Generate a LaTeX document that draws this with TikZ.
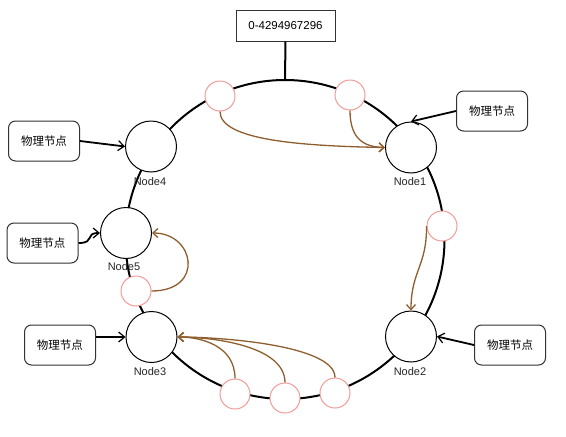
\documentclass[tikz,border=0pt]{standalone}
\usepackage{fontspec}
\setmainfont{Liberation Sans}
\newfontfamily\cjk{Noto Sans CJK SC}
\usetikzlibrary{arrows.meta}
\definecolor{pinkline}{HTML}{F19C99}
\definecolor{brownline}{HTML}{8F5E2E}
\begin{document}
\begin{tikzpicture}[x=1pt,y=-1pt,
  ringc/.style={circle,draw=black,line width=2pt,minimum size=319pt,inner sep=0pt},
  bignode/.style={circle,draw=black,fill=white,line width=1pt,minimum size=51pt,inner sep=0pt},
  vnode/.style={circle,draw=pinkline,fill=white,line width=1pt,minimum size=30pt,inner sep=0pt},
  lbl/.style={font=\fontsize{11pt}{13pt}\selectfont,inner sep=0pt,text=black!85},
  phys/.style={draw=black!80,rounded corners=7pt,line width=1pt,minimum width=71pt,minimum height=40pt,inner sep=0pt,font=\cjk\fontsize{11.5pt}{13pt}\selectfont},
  blk/.style={draw=black,line width=1.8pt,-{Straight Barb[length=6pt,width=10pt,line width=1.2pt]}},
  brn/.style={draw=brownline,line width=1.3pt,-{Straight Barb[length=5pt,width=9pt,line width=1.3pt]}}
]
\useasboundingbox (0,0) rectangle (566,437);
\node[ringc] (ring) at (285,239.5) {};
\node[draw=black!80,line width=1pt,minimum width=99pt,minimum height=31pt,inner sep=0pt,font=\fontsize{11.5pt}{13pt}\selectfont] (range) at (285.5,25.5) {0-4294967296};
\draw[line width=2pt] (range.south) -- (ring.north);

\node[bignode] (n1) at (411,147.5) {};
\node[bignode] (n2) at (411,336.5) {};
\node[bignode] (n3) at (151.5,337) {};
\node[bignode] (n4) at (151,146.5) {};
\node[bignode] (n5) at (126,233) {};

\node[lbl] (l1) at (410,182) {Node1};
\node[lbl] (l2) at (410,372) {Node2};
\node[lbl] (l3) at (150,372) {Node3};
\node[lbl] (l4) at (150,182) {Node4};
\node[lbl] (l5) at (124,267) {Node5};

\node[vnode] (p1) at (220,96) {};
\node[vnode] (p2) at (350,95) {};
\node[vnode] (p3) at (442,226) {};
\node[vnode] (p4) at (136,291) {};
\node[vnode] (p5) at (235,394) {};
\node[vnode] (p6) at (285,398) {};
\node[vnode] (p7) at (335,393) {};

\node[phys] (b1) at (44,141) {物理节点};
\node[phys] (b2) at (42.5,243) {物理节点};
\node[phys] (b3) at (60,345) {物理节点};
\node[phys] (b4) at (492,111) {物理节点};
\node[phys] (b5) at (510,345) {物理节点};

\draw[blk] (b1.east) -- (n4.west);
\draw[blk] (b2.east) .. controls (96,243) and (84,233) .. (n5.west);
\draw[blk] (b3.east |- n3.west) -- (n3.west);
\draw[blk] (b4.west) -- (n1.north);
\draw[blk] (b5.west) -- (n2.east);

\draw[brn] (p1.south) .. controls (220,140) and (300,146) .. (n1.west);
\draw[brn] (p2.south) .. controls (350,140) and (365,147) .. (n1.west);
\draw[brn] (p3.west) .. controls (427,266) and (411,271) .. (n2.north);
\draw[brn] (p4.east) .. controls (205,291) and (195,233) .. (n5.east);
\draw[brn] (p5.north) .. controls (235,345) and (200,337) .. (n3.east);
\draw[brn] (p6.north) .. controls (285,345) and (210,337) .. (n3.east);
\draw[brn] (p7.north) .. controls (335,345) and (220,337) .. (n3.east);
\end{tikzpicture}
\end{document}
